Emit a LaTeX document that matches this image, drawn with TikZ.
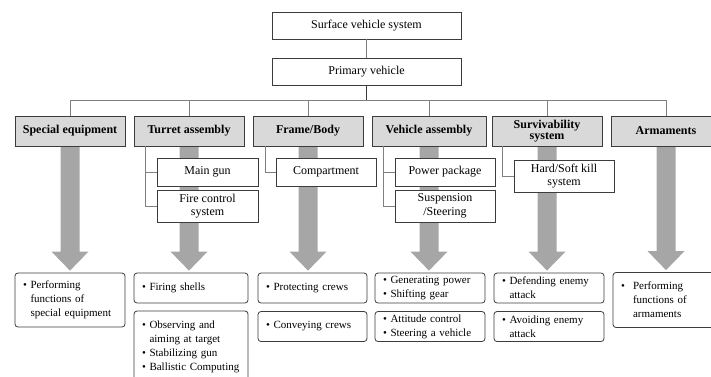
\documentclass[tikz,border=0pt]{standalone}
\usepackage{fontspec}
\setmainfont{Liberation Serif}
\usetikzlibrary{calc}
\usetikzlibrary{backgrounds}
\definecolor{catgray}{HTML}{D9D9D9}
\definecolor{arrgray}{HTML}{A6A6A6}
\definecolor{linegray}{HTML}{808080}
\definecolor{boxline}{HTML}{3C3C3C}
\newcommand{\bul}{\textbullet\ }
\newcommand{\ind}{\hphantom{\textbullet\ }}
\newcommand{\bigarrow}[2]{%
\fill[arrgray] ($(#1.south)+(-9.5,0)$) -- ($(#1.south|-#2.north)+(-9.5,-21)$) -- ($(#1.south|-#2.north)+(-18.5,-21)$) -- ($(#1.south|-#2.north)+(0,-2)$) -- ($(#1.south|-#2.north)+(18.5,-21)$) -- ($(#1.south|-#2.north)+(9.5,-21)$) -- ($(#1.south)+(9.5,0)$) -- cycle;}

\begin{document}
\begin{tikzpicture}[x=1pt,y=-1pt,
topbox/.style={draw=boxline,line width=.8pt,fill=white,minimum width=189pt,minimum height=27pt,inner sep=0pt,font=\fontsize{12}{13}\selectfont},
catbox/.style={draw=boxline,line width=.8pt,fill=catgray,minimum width=110pt,minimum height=30pt,inner sep=0pt,align=center,font=\bfseries\fontsize{12}{11.5}\selectfont},
subbox/.style={draw=boxline,line width=.8pt,fill=white,minimum width=101pt,minimum height=28pt,inner sep=0pt,align=center,font=\fontsize{12}{13.5}\selectfont},
resbox/.style={draw=boxline,line width=.8pt,fill=white,rounded corners=3pt,text width=94pt,minimum height=30pt,inner xsep=8pt,inner ysep=2pt,align=left,font=\fontsize{11}{14}\selectfont},
conn/.style={draw=linegray,line width=.7pt}]
\useasboundingbox (0,0) rectangle (711,376);

% top of the tree
\node[topbox] (sys) at (366.5,25.5) {Surface vehicle system};
\node[topbox] (prim) at (366.5,71.5) {Primary vehicle};
\coordinate (bus) at (366.5,100);
\draw[conn] (sys) -- (prim);
\draw[boxline,line width=1.1pt] (prim) -- (bus);

% subsystems
\node[catbox] (spe) at (70,131) {Special equipment};
\node[catbox] (tur) at (189,131) {Turret assembly};
\node[catbox] (frm) at (308,131) {Frame/Body};
\node[catbox,minimum width=114pt] (veh) at (429,131) {Vehicle assembly};
\node[catbox] (sur) at (547,131) {Survivability\\system};
\node[catbox] (arm) at (666,131) {Armaments};
\draw[conn] (bus -| spe.north) -- (bus -| arm.north);
\foreach \c in {spe,tur,frm,veh,sur,arm}
  \draw[conn] (bus -| \c.north) -- (\c.north);

% components
\node[subbox] (gun) at (207.5,172) {Main gun};
\node[subbox,minimum height=32pt] (fcs) at (207.5,206) {Fire control\\system};
\node[subbox,minimum width=100pt] (cmp) at (326,172) {Compartment};
\node[subbox,minimum width=100pt] (pwr) at (445,172) {Power package};
\node[subbox,minimum width=100pt,minimum height=32pt] (sus) at (445,206) {Suspension\\/Steering};
\node[subbox,minimum width=100pt,minimum height=32pt] (hsk) at (564,176) {Hard/Soft kill\\system};

\coordinate (tb) at ([xshift=12pt]tur.south west);
\draw[conn] (tb) |- (fcs.west);
\draw[conn] (tb |- gun.west) -- (gun.west);
\coordinate (fb) at ([xshift=13pt]frm.south west);
\draw[conn] (fb) |- (cmp.west);
\coordinate (vb) at ([xshift=12pt]veh.south west);
\draw[conn] (vb) |- (sus.west);
\draw[conn] (vb |- pwr.west) -- (pwr.west);
\coordinate (sb) at ([xshift=11pt]sur.south west);
\draw[conn] (sb) |- (hsk.west);

% functions
\node[resbox,minimum height=54pt] (f1) at (70,300) {\bul Performing\\\ind functions of\\\ind special equipment};
\node[resbox,text width=98pt] (f2) at (191,288) {\bul Firing shells};
\node[resbox,text width=98pt,minimum height=72pt] (f2b) at (191,347) {\bul Observing and\\\ind aiming at target\\\bul Stabilizing gun\\\bul Ballistic Computing};
\node[resbox,text width=93pt] (f3) at (312.5,288) {\bul Protecting crews};
\node[resbox,text width=93pt] (f3b) at (312.5,326.5) {\bul Conveying crews};
\node[resbox] (f4) at (430,288) {\bul Generating power\\\bul Shifting gear};
\node[resbox] (f4b) at (430,326.5) {\bul Attitude control\\\bul Steering a vehicle};
\node[resbox] (f5) at (549,288) {\bul Defending enemy\\\ind attack};
\node[resbox] (f5b) at (549,326.5) {\bul Avoiding enemy\\\ind attack};
\node[resbox,minimum height=55pt] (f6) at (668,300) {\makebox[12pt][l]{\textbullet}Performing\\\hspace*{12pt}functions of\\\hspace*{12pt}armaments};

% big arrows behind the boxes
\begin{scope}[on background layer]
\bigarrow{spe}{f1}
\bigarrow{tur}{f2}
\bigarrow{frm}{f3}
\bigarrow{veh}{f4}
\bigarrow{sur}{f5}
\bigarrow{arm}{f6}
\end{scope}
\end{tikzpicture}
\end{document}
